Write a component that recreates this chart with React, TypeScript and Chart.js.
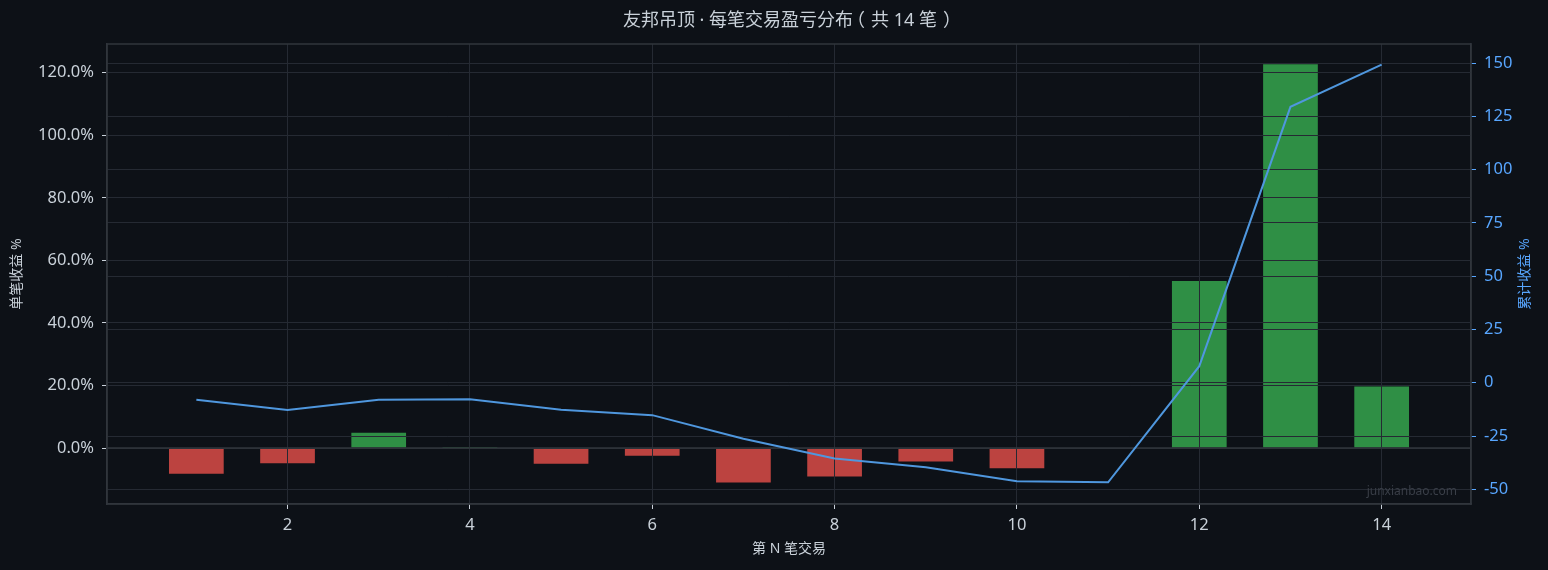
import React, { useEffect, useRef } from "react";
import { Chart, registerables } from "chart.js";

Chart.register(...registerables);

// ---- data ----
const tradeNumbers = [1, 2, 3, 4, 5, 6, 7, 8, 9, 10, 11, 12, 13, 14];
const tradeReturns = [-8.2, -4.9, 4.9, 0.3, -5.0, -2.5, -11.0, -9.1, -4.3, -6.5, -0.2, 53.4, 122.7, 19.7];
const cumulativeReturns = [-8.0, -12.8, -8.0, -7.7, -12.7, -15.2, -26.3, -35.5, -39.6, -46.2, -46.7, 7.8, 129.5, 149.3];
const xTickValues = [2, 4, 6, 8, 10, 12, 14];
const leftTickValues = [0, 20, 40, 60, 80, 100, 120];
const rightTickValues = [-50, -25, 0, 25, 50, 75, 100, 125, 150];

const TITLE = "友邦吊顶 · 每笔交易盈亏分布（共 14 笔）";
const X_TITLE = "第 N 笔交易";
const Y_TITLE = "单笔收益 %";
const Y1_TITLE = "累计收益 %";
const WATERMARK = "junxianbao.com";

// axis ranges
const X_MIN = 0.02;
const X_MAX = 14.98;
const Y_MIN = -17.9;
const Y_MAX = 129.2;
const Y1_MIN = -56.9;
const Y1_MAX = 159.0;

// ---- styles ----
const BG = "#0d1117";
const GRID = "#252a33";
const SPINE = "#30363d";
const TEXT = "#c9d1d9";
const BLUE = "#58a6ff";
const LINE = "#4f97de";
const GREEN = "#2f8f45";
const RED = "#bc4340";
const WM = "#3a3f48";
const FONT = '"Noto Sans", "Noto Sans CJK SC", sans-serif';
const TITLE_SIZE = 18;

// draws text with full-width brackets centred in their em box
function drawTitle(ctx: CanvasRenderingContext2D, text: string, cx: number, cy: number, size: number) {
  const parts: { t: string; w: number; centered: boolean }[] = [];
  let buf = "";
  for (const ch of Array.from(text)) {
    if (ch === "（" || ch === "）") {
      if (buf) {
        parts.push({ t: buf, w: ctx.measureText(buf).width, centered: false });
        buf = "";
      }
      parts.push({ t: ch, w: size, centered: true });
    } else buf += ch;
  }
  if (buf) parts.push({ t: buf, w: ctx.measureText(buf).width, centered: false });
  const total = parts.reduce((a, p) => a + p.w, 0);
  let x = cx - total / 2;
  ctx.textAlign = "left";
  for (const p of parts) {
    if (p.centered) {
      const m = ctx.measureText(p.t);
      const inkW = m.actualBoundingBoxRight + m.actualBoundingBoxLeft;
      ctx.fillText(p.t, x + p.w / 2 - inkW / 2 + m.actualBoundingBoxLeft, cy);
    } else {
      ctx.fillText(p.t, x, cy);
    }
    x += p.w;
  }
}

const overlayPlugin = {
  id: "overlay",
  afterDatasetDraw(chart: any, args: any) {
    if (args.index !== 0) return;
    const { ctx, chartArea } = chart;
    ["x", "y", "y1"].forEach((id) => chart.scales[id].drawGrid(chartArea));
    const y0 = chart.scales.y.getPixelForValue(0);
    ctx.save();
    ctx.strokeStyle = SPINE;
    ctx.lineWidth = 1.5;
    ctx.beginPath();
    ctx.moveTo(chartArea.left, y0);
    ctx.lineTo(chartArea.right, y0);
    ctx.stroke();
    ctx.restore();
  },
  afterDraw(chart: any) {
    const { ctx, chartArea } = chart;
    ctx.save();
    ctx.strokeStyle = SPINE;
    ctx.lineWidth = 1.5;
    ctx.strokeRect(chartArea.left, chartArea.top, chartArea.right - chartArea.left, chartArea.bottom - chartArea.top);
    // title
    ctx.fillStyle = TEXT;
    ctx.font = `${TITLE_SIZE}px ${FONT}`;
    ctx.textBaseline = "middle";
    drawTitle(ctx, TITLE, (chartArea.left + chartArea.right) / 2, 21, TITLE_SIZE);
    // right axis title (reads bottom to top)
    ctx.save();
    ctx.translate(chart.width - 23, (chartArea.top + chartArea.bottom) / 2);
    ctx.rotate(-Math.PI / 2);
    ctx.fillStyle = BLUE;
    ctx.font = `14px ${FONT}`;
    ctx.textAlign = "center";
    ctx.fillText(Y1_TITLE, 0, 0);
    ctx.restore();
    // watermark
    ctx.fillStyle = WM;
    ctx.font = `12px ${FONT}`;
    ctx.textAlign = "right";
    ctx.textBaseline = "middle";
    ctx.fillText(WATERMARK, chartArea.right - 14, chartArea.bottom - 12);
    ctx.restore();
  },
};

export default function App() {
  const ref = useRef<HTMLCanvasElement>(null);
  useEffect(() => {
    document.body.style.margin = "0";
    document.body.style.background = BG;
    const chart = new Chart(ref.current as HTMLCanvasElement, {
      type: "bar",
      data: {
        datasets: [
          {
            type: "bar",
            label: "单笔收益",
            data: tradeNumbers.map((x, i) => ({ x, y: tradeReturns[i] })),
            backgroundColor: tradeReturns.map((v) => (v >= 0 ? GREEN : RED)),
            xAxisID: "x",
            yAxisID: "y",
            barPercentage: 0.6,
            categoryPercentage: 1,
            order: 1,
          } as any,
          {
            type: "line",
            label: "累计收益",
            data: tradeNumbers.map((x, i) => ({ x, y: cumulativeReturns[i] })),
            borderColor: LINE,
            borderWidth: 2,
            pointRadius: 0,
            tension: 0,
            xAxisID: "x",
            yAxisID: "y1",
            order: 0,
          } as any,
        ],
      },
      options: {
        responsive: false,
        animation: false,
        layout: { padding: { top: 44, left: 0, right: 0, bottom: 0 } },
        plugins: {
          legend: { display: false },
          tooltip: { enabled: false },
          title: { display: false },
        },
        scales: {
          x: {
            type: "linear",
            min: X_MIN,
            max: X_MAX,
            offset: false,
            afterFit: (s: any) => {
              s.height = 66;
            },
            afterBuildTicks: (s: any) => {
              s.ticks = xTickValues.map((v) => ({ value: v }));
            },
            grid: { color: GRID, tickColor: TEXT, tickLength: 5, offset: false, lineWidth: 1 },
            border: { color: SPINE, width: 1.5 },
            ticks: { color: TEXT, font: { family: FONT, size: 16.5 }, padding: 6, maxRotation: 0 },
            title: {
              display: true,
              text: X_TITLE,
              color: TEXT,
              font: { family: FONT, size: 14 },
              padding: { top: 0, bottom: 12.8 },
            },
          },
          y: {
            type: "linear",
            position: "left",
            min: Y_MIN,
            max: Y_MAX,
            afterFit: (s: any) => {
              s.width = 107;
            },
            afterBuildTicks: (s: any) => {
              s.ticks = leftTickValues.map((v) => ({ value: v }));
            },
            grid: { color: GRID, tickColor: TEXT, tickLength: 5, lineWidth: 1 },
            border: { color: SPINE, width: 1.5 },
            ticks: {
              color: TEXT,
              font: { family: FONT, size: 16.5 },
              padding: 8,
              callback: (v: any) => Number(v).toFixed(1) + "%",
            },
            title: {
              display: true,
              text: Y_TITLE,
              color: TEXT,
              font: { family: FONT, size: 14 },
              padding: { top: 9.1, bottom: 0 },
            },
          },
          y1: {
            type: "linear",
            position: "right",
            min: Y1_MIN,
            max: Y1_MAX,
            afterFit: (s: any) => {
              s.width = 77;
            },
            afterBuildTicks: (s: any) => {
              s.ticks = rightTickValues.map((v) => ({ value: v }));
            },
            grid: { color: GRID, tickColor: BLUE, tickLength: 5, lineWidth: 1 },
            border: { color: SPINE, width: 1.5 },
            ticks: {
              color: BLUE,
              font: { family: FONT, size: 16.5 },
              padding: 8,
              callback: (v: any) => String(v),
            },
            title: { display: false },
          },
        },
      } as any,
      plugins: [overlayPlugin],
    });
    return () => chart.destroy();
  }, []);
  return (
    <div style={{ width: 1548, height: 570, background: BG }}>
      <canvas ref={ref} width={1548} height={570} style={{ display: "block" }} />
    </div>
  );
}
